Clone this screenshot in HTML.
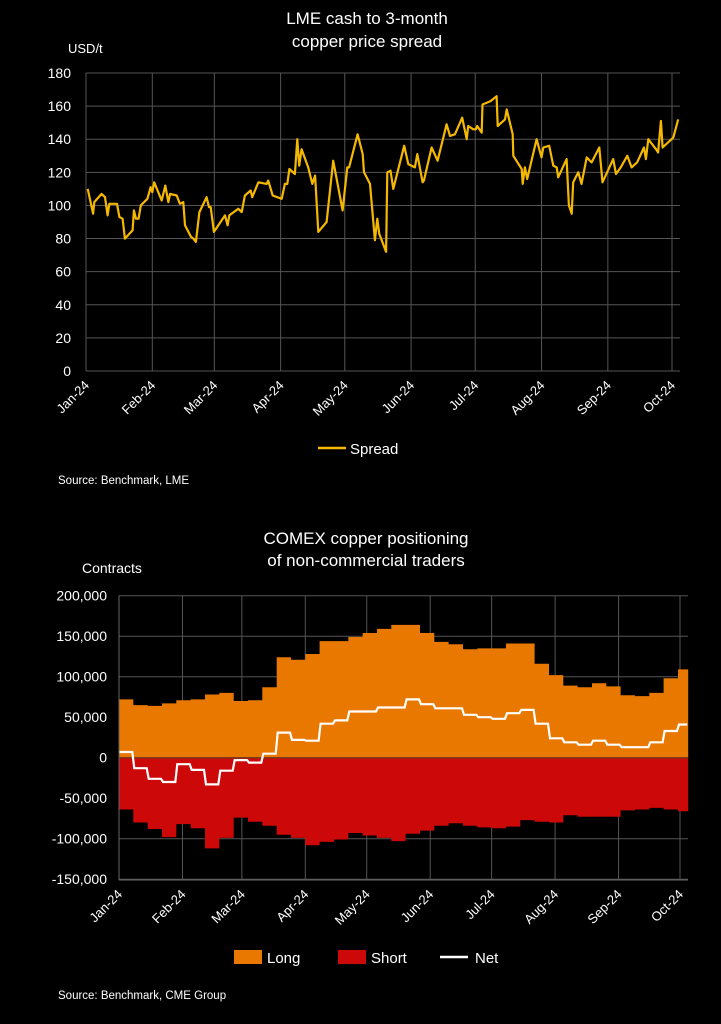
<!DOCTYPE html>
<html><head><meta charset="utf-8"><style>
html,body{margin:0;padding:0;background:#000;}
svg{display:block;font-family:"Liberation Sans",Arial,sans-serif;}
</style></head><body>
<svg id="svg" width="721" height="1024" viewBox="0 0 721 1024" xmlns="http://www.w3.org/2000/svg">
<rect x="0" y="0" width="721" height="1024" fill="#000"/>
<g>
<text x="367" y="24" text-anchor="middle" fill="#fff" font-size="17">LME cash to 3-month</text>
<text x="367" y="47" text-anchor="middle" fill="#fff" font-size="17">copper price spread</text>
<text x="68" y="53" fill="#fff" font-size="13">USD/t</text>
<g id="topGrid"></g>
<g id="topAxes"></g>
<path id="spreadLine" fill="none" stroke="#F5B800" stroke-width="2.2" stroke-linejoin="round"/>
<g>
<line x1="318" y1="448" x2="346" y2="448" stroke="#F5B800" stroke-width="2.5"/>
<text x="350" y="454" fill="#fff" font-size="15">Spread</text>
</g>
<text x="58" y="484" fill="#fff" font-size="11.5">Source: Benchmark, LME</text>
</g>
<g>
<text x="366" y="544" text-anchor="middle" fill="#fff" font-size="17">COMEX copper positioning</text>
<text x="366" y="566" text-anchor="middle" fill="#fff" font-size="17">of non-commercial traders</text>
<text x="82" y="573" fill="#fff" font-size="14">Contracts</text>
<g id="botGrid"></g>
<path id="longArea" fill="#E87800"/>
<path id="shortArea" fill="#CC0808"/>
<line x1="119" y1="757.7" x2="688" y2="757.7" stroke="#7a3b1a" stroke-width="1.5"/>
<path id="netLine" fill="none" stroke="#fff" stroke-width="2.2"/>
<g id="botAxes"></g>
<g>
<rect x="234" y="950" width="28" height="14" fill="#E87800"/>
<text x="267" y="963" fill="#fff" font-size="15">Long</text>
<rect x="338" y="950" width="28" height="14" fill="#CC0808"/>
<text x="371" y="963" fill="#fff" font-size="15">Short</text>
<line x1="440" y1="957" x2="468" y2="957" stroke="#fff" stroke-width="2.5"/>
<text x="475" y="963" fill="#fff" font-size="15">Net</text>
</g>
<text x="58" y="999" fill="#fff" font-size="11.5">Source: Benchmark, CME Group</text>
</g>
</svg>
<script>
const monthLabels = ["Jan-24","Feb-24","Mar-24","Apr-24","May-24","Jun-24","Jul-24","Aug-24","Sep-24","Oct-24"];
const monthDays = [0,31,60,91,121,152,182,213,244,274];
const topTicks = [0,20,40,60,80,100,120,140,160,180];
const spreadDays = [0.8,3.3,3.9,7.3,8.9,10.1,10.9,14.5,15.6,17.1,18.2,21.8,22.4,23.4,24.6,25.6,28.7,30.2,31,31.9,35.4,37.1,38.5,39.3,42.4,43.9,45.5,46.3,49.1,50.2,51.4,53,56.4,57.5,58.3,59.8,65,66.2,67,71.2,72.8,74.3,77,77.7,80.6,84.5,85.2,87.3,91.5,93,94.1,95.1,97.7,98.8,99.7,100.8,103.9,105.8,107.1,108.6,112.5,115.6,120,122.2,123,127,129.4,130,132.8,135.1,136.2,137.1,140.3,140.9,142.4,143.7,148.8,150.7,153.8,154.9,157.4,158,161.6,164.4,168.6,170.2,172.5,175.9,178,178.7,181.1,182.3,182.9,185,185.4,189.2,192,192.5,195.9,196.7,199.5,199.8,203.7,204.2,205.2,206.3,210.7,213,213.8,216.6,218.5,220.1,220.8,224.7,225.8,227.1,227.8,230.2,231.7,234.1,236.4,240,241.5,246.5,247.8,250,253.1,255.1,257.7,260.9,261.8,262.9,266.5,267.5,268.8,269.6,274.6,276.9];
const spreadValues = [110,95,102,107,105,94,101,101,93,92,80,85,97,92,92,100,104,111,108,114,103,112,102,107,106,101,102,88,81,80,78,96,105,99,99,84,94,88,94,98,96,106,109,105,114,113,115,106,104,113,113,122,119,140,124,134,123,113,118,84,90,127,97,123,123,143,131,120,113,79,92,83,72,120,121,110,136,125,123,131,114,115,135,127,149,142,143,153,140,148,146,146,148,144,161,163,166,148,152,158,143,130,122,113,123,116,140,129,135,136,124,123,117,128,100,95,114,120,113,129,126,135,114,128,119,123,130,123,126,135,128,140,134,132,151,135,141,152];
const botTicks = [-150000,-100000,-50000,0,50000,100000,150000,200000];
const botTickLabels = ["-150,000","-100,000","-50,000","0","50,000","100,000","150,000","200,000"];
const longValues = [72,65,64,67,71,72,78,80,70,71,87,124,121,128,144,144,149,154,159,164,164,154,143,140,134,135,135,141,141,116,102,89,87,92,88,77,76,80,98,109];
const shortValues = [-64,-80,-88,-98,-82,-87,-112,-99,-74,-79,-84,-95,-99,-108,-104,-101,-93,-96,-99,-103,-94,-90,-84,-81,-84,-86,-87,-85,-77,-79,-80,-71,-73,-73,-73,-65,-64,-62,-64,-66];
const netValues = [7,-13,-26,-30,-8,-15,-33,-16,-3,-6,5,31,22,21,42,46,57,57,62,62,72,66,61,61,53,50,48,55,59,42,24,19,16,21,16,13,13,19,33,41];

const NS="http://www.w3.org/2000/svg";
function mk(tag,parent){const e=document.createElementNS(NS,tag);parent.appendChild(e);return e;}

// top axes
const tX=d=>86+d*(672-86)/274;
const tY=v=>371-v*(371-73)/180;
const tg=document.getElementById('topGrid'), ta=document.getElementById('topAxes');
topTicks.forEach(v=>{
  const l=mk('line',tg);
  
  
  l.setAttribute('x1',86);l.setAttribute('x2',680);l.setAttribute('y1',tY(v));l.setAttribute('y2',tY(v));
  l.setAttribute('stroke','#555');l.setAttribute('stroke-width','1');
  const t=mk('text',ta);
  
  
  t.setAttribute('x',71);t.setAttribute('y',tY(v)+5);t.setAttribute('text-anchor','end');
  t.setAttribute('fill','#fff');t.setAttribute('font-size','14');t.textContent=v;
});
monthDays.forEach((d,i)=>{
  const x=tX(d);
  const l=mk('line',tg);
  
  
  l.setAttribute('x1',x);l.setAttribute('x2',x);l.setAttribute('y1',73);l.setAttribute('y2',371);
  l.setAttribute('stroke','#555');l.setAttribute('stroke-width','1');
  const t=mk('text',ta);
  
  
  t.setAttribute('transform',`translate(${x+4},${386}) rotate(-45)`);
  t.setAttribute('text-anchor','end');t.setAttribute('fill','#fff');t.setAttribute('font-size','13');
  t.textContent=monthLabels[i];
});
let p='';
spreadDays.forEach((d,i)=>{p+=(i?'L':'M')+tX(d).toFixed(1)+','+tY(spreadValues[i]).toFixed(1);});
document.getElementById('spreadLine').setAttribute('d',p);

// bottom
const bX=d=>119+d*(680-119)/274;
const bY=v=>757.7-v*(757.7-595.7)/200000;
const bg=document.getElementById('botGrid'), ba=document.getElementById('botAxes');
botTicks.forEach((v,i)=>{
  const l=mk('line',bg);
  
  
  l.setAttribute('x1',119);l.setAttribute('x2',688);l.setAttribute('y1',bY(v));l.setAttribute('y2',bY(v));
  l.setAttribute('stroke','#555');l.setAttribute('stroke-width','1');
  const t=mk('text',ba);
  
  
  t.setAttribute('x',107);t.setAttribute('y',bY(v)+5);t.setAttribute('text-anchor','end');
  t.setAttribute('fill','#fff');t.setAttribute('font-size','14');t.textContent=botTickLabels[i];
});
monthDays.forEach((d,i)=>{
  const x=bX(d);
  const l=mk('line',bg);
  
  
  l.setAttribute('x1',x);l.setAttribute('x2',x);l.setAttribute('y1',595.7);l.setAttribute('y2',880);
  l.setAttribute('stroke','#555');l.setAttribute('stroke-width','1');
  const t=mk('text',ba);
  
  
  t.setAttribute('transform',`translate(${x+4},${895}) rotate(-45)`);
  t.setAttribute('text-anchor','end');t.setAttribute('fill','#fff');t.setAttribute('font-size','13');
  t.textContent=monthLabels[i];
});
const wk=7, endDay=278;
function stepArea(vals){
  let s='M'+bX(0)+','+bY(0);
  vals.forEach((v,i)=>{const a=bX(i*wk), b=bX(Math.min((i+1)*wk,endDay));
    s+='L'+a.toFixed(1)+','+bY(v*1000).toFixed(1)+'L'+b.toFixed(1)+','+bY(v*1000).toFixed(1);});
  s+='L'+bX(endDay)+','+bY(0)+'Z';return s;
}
document.getElementById('longArea').setAttribute('d',stepArea(longValues));
document.getElementById('shortArea').setAttribute('d',stepArea(shortValues));
let n='';
netValues.forEach((v,i)=>{const a=bX(i*wk)+(i?1:0), b=bX(Math.min((i+1)*wk,endDay))-1;
  n+=(i?'L':'M')+a.toFixed(1)+','+bY(v*1000).toFixed(1)+'L'+b.toFixed(1)+','+bY(v*1000).toFixed(1);});
document.getElementById('netLine').setAttribute('d',n);
[[119,595.7,119,880],[119,880,688,880]].forEach(c=>{
  const l=mk('line',ba);
  
  
  l.setAttribute('x1',c[0]);l.setAttribute('y1',c[1]);l.setAttribute('x2',c[2]);l.setAttribute('y2',c[3]);
  l.setAttribute('stroke','#666');
});
</script>
</body></html>
